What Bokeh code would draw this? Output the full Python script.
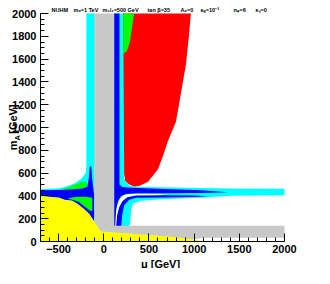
import math
from bokeh.plotting import figure
from bokeh.models import Range1d, FixedTicker
from bokeh.core.properties import value
from bokeh.embed import file_html
from bokeh.resources import INLINE

# ---------------- data (mu [GeV], m_A [GeV]) ----------------
mu_limits = [-700, 2000]
ma_limits = [0, 2000]
mu_ticks = [-500, 0, 500, 1000, 1500, 2000]
mu_minor_ticks = list(range(-700, 2001, 100))
ma_ticks = list(range(0, 2001, 200))
ma_minor_ticks = list(range(0, 2001, 50))

title_parts = ["NUHM", "m\u2080=1 TeV", "m\u2081/\u2082=500 GeV", "tan \u03b2=35",
               "A\u2080=0", "\u03ba\u1d68=10\u207b\u00b3", "n\u1d69=6", "\u03ba\u209b=0"]
x_label = "\u03bc [GeV]"
y_label_parts = ["m", "A", "[GeV]"]

cyan_left_mu = [-193, -100, -100, -700, -700, -491, -413, -325, -248, -200, -193]
cyan_left_ma = [2000, 2000, 150, 150, 458, 467, 483, 508, 550, 600, 650]

cyan_right_mu = [160, 237, 226, 281, 358, 633, 1074, 1405, 2000, 2000, 1405, 1074, 633, 413, 325, 303, 292, 281, 115, 115]
cyan_right_ma = [2000, 2000, 550, 492, 480, 476, 470, 466, 462, 405, 401, 383, 371, 358, 333, 283, 158, 133, 133, 2000]

green_left_top_mu = [-491, -413, -325, -237, -193, -182, -237, -347]
green_left_top_ma = [452, 470, 495, 527, 520, 483, 466, 458]

blue_left_mu = [-700, -491, -347, -237, -182, -165, -155, -138, -127, -116, -105, -105, -160, -215, -281, -347, -436, -491, -700]
blue_left_ma = [450, 452, 458, 465, 480, 560, 658, 658, 540, 467, 400, 175, 242, 283, 325, 358, 367, 383, 400]

green_left_low_mu = [-402, -281, -215, -160, -127, -127, -193, -303]
green_left_low_ma = [378, 350, 310, 275, 265, 383, 392, 392]

white_gap_mu = [120, 130, 150, 180, 230, 358, 600, 700, 600, 358, 259, 204, 171, 149, 140]
white_gap_ma = [133, 240, 320, 380, 412, 418, 416, 410, 400, 395, 380, 340, 290, 220, 133]

blue_outer_mu = [115, 174, 174, 204, 303, 744, 1074, 1372, 1074, 633, 358, 248, 193, 160, 137, 126, 115]
blue_outer_ma = [2000, 2000, 500, 478, 471, 458, 450, 433, 425, 423, 423, 417, 400, 358, 283, 133, 133]

blue_inner_mu = [137, 149, 171, 204, 259, 358, 633, 1000, 1150, 1000, 633, 358, 281, 226, 204, 193]
blue_inner_ma = [133, 233, 300, 350, 388, 404, 406, 404, 398, 390, 386, 383, 367, 317, 233, 133]

red_mu = [215, 964, 942, 909, 854, 799, 711, 666, 600, 490, 391, 336, 281, 237, 226]
red_ma = [2000, 2000, 1800, 1550, 1300, 1050, 883, 775, 633, 525, 487, 483, 500, 533, 592]

green_right_mu = [215, 336, 314, 292, 259, 215]
green_right_ma = [2000, 2000, 1883, 1758, 1675, 1642]

gray_mu = [-105, 115, 115, 2000, 2000, 1100, 1000, 900, -105]
gray_ma = [2000, 2000, 138, 138, 33, 33, 20, 0, 0]

yellow_mu = [-700, -700, -491, -436, -347, -281, -215, -160, -105, -50, -28, 30, 200, 500, 800, 1000, 1100]
yellow_ma = [0, 400, 383, 367, 358, 325, 283, 242, 175, 108, 88, 85, 75, 58, 38, 18, 0]

# ---------------- styles / layout ----------------
CYAN = "#00ffff"
BLUE = "#0000ff"
GREEN = "#00ff00"
RED = "#ff0000"
GRAY = "#c8c8c8"
YELLOW = "#ffff00"
WHITE = "#ffffff"
FONT = "Liberation Sans"

W, H = 314, 268
# plot-area edges inside the canvas (px); the canvas frame also holds the texts around it
PL, PR, PT, PB = 40, 284, 13, 241
sx = (PR - PL) / (mu_limits[1] - mu_limits[0])
sy = (PB - PT) / (ma_limits[1] - ma_limits[0])
x0 = mu_limits[0] - PL / sx
x1 = mu_limits[1] + (W - PR) / sx
y1 = ma_limits[1] + PT / sy
y0 = ma_limits[0] - (H - PB) / sy


def cx(px):
    return x0 + px / sx


def cy(py):
    return y1 - py / sy


p = figure(width=W, height=H, output_backend="svg", toolbar_location=None, title=None,
           x_range=Range1d(x0, x1), y_range=Range1d(y0, y1),
           min_border_left=0, min_border_right=0, min_border_top=0, min_border_bottom=0)
p.outline_line_color = None
p.xgrid.visible = False
p.ygrid.visible = False
p.background_fill_color = "white"
p.border_fill_color = "white"

layers = [
    (cyan_left_mu, cyan_left_ma, CYAN),
    (cyan_right_mu, cyan_right_ma, CYAN),
    (green_left_top_mu, green_left_top_ma, GREEN),
    (blue_left_mu, blue_left_ma, BLUE),
    (green_left_low_mu, green_left_low_ma, GREEN),
    (white_gap_mu, white_gap_ma, WHITE),
    (blue_outer_mu, blue_outer_ma, BLUE),
    (blue_inner_mu, blue_inner_ma, BLUE),
    (red_mu, red_ma, RED),
    (green_right_mu, green_right_ma, GREEN),
    (gray_mu, gray_ma, GRAY),
    (yellow_mu, yellow_ma, YELLOW),
]
for mu, ma, col in layers:
    p.patch(mu, ma, fill_color=col, line_color=None, level="underlay")

p.xaxis.ticker = FixedTicker(ticks=mu_ticks, minor_ticks=mu_minor_ticks)
p.yaxis.ticker = FixedTicker(ticks=ma_ticks, minor_ticks=ma_minor_ticks)
p.xaxis.fixed_location = ma_limits[0]
p.yaxis.fixed_location = mu_limits[0]
p.xaxis.bounds = tuple(mu_limits)
p.yaxis.bounds = tuple(ma_limits)
for ax in (p.xaxis[0], p.yaxis[0]):
    ax.level = "overlay"
    ax.major_tick_in = 8
    ax.major_tick_out = 0
    ax.minor_tick_in = 4
    ax.minor_tick_out = 0
    ax.axis_line_color = "black"
    ax.major_tick_line_color = "black"
    ax.minor_tick_line_color = "black"
    ax.major_label_text_font = FONT
    ax.major_label_text_font_style = "bold"
    ax.major_label_text_color = "black"
p.xaxis.major_label_text_font_size = "11px"
p.yaxis.major_label_text_font_size = "11px"
p.xaxis.major_label_standoff = 3
p.yaxis.major_label_standoff = 4

# title pieces
title_px = [51, 73, 102, 147, 180, 200, 233, 255]
p.text(x=[cx(v) for v in title_px], y=[cy(9)] * len(title_parts), text=title_parts,
       text_font=value(FONT), text_font_size=value("5.5px"), text_font_style="bold",
       text_color="black", text_align="left", text_baseline="alphabetic")

# x-axis label
p.text(x=[cx(160)], y=[cy(263)], text=[x_label],
       text_font=value(FONT), text_font_size=value("11px"), text_font_style="bold",
       text_color="black", text_align="center", text_baseline="alphabetic")

# y-axis label: m, subscript A, [GeV]  (vertical positions follow the m_A scale)
ylab_px_x = [12, 16.5, 12]
ylab_ma = [800, 886, 945]
ylab_size = ["11px", "7.5px", "11px"]
for t, lx, lm, fs in zip(y_label_parts, ylab_px_x, ylab_ma, ylab_size):
    p.text(x=[cx(lx)], y=[lm], text=[t], angle=math.pi / 2,
           text_font=value(FONT), text_font_size=value(fs), text_font_style="bold",
           text_color="black", text_align="left", text_baseline="alphabetic")

open("out.html", "w").write(file_html(p, INLINE))
